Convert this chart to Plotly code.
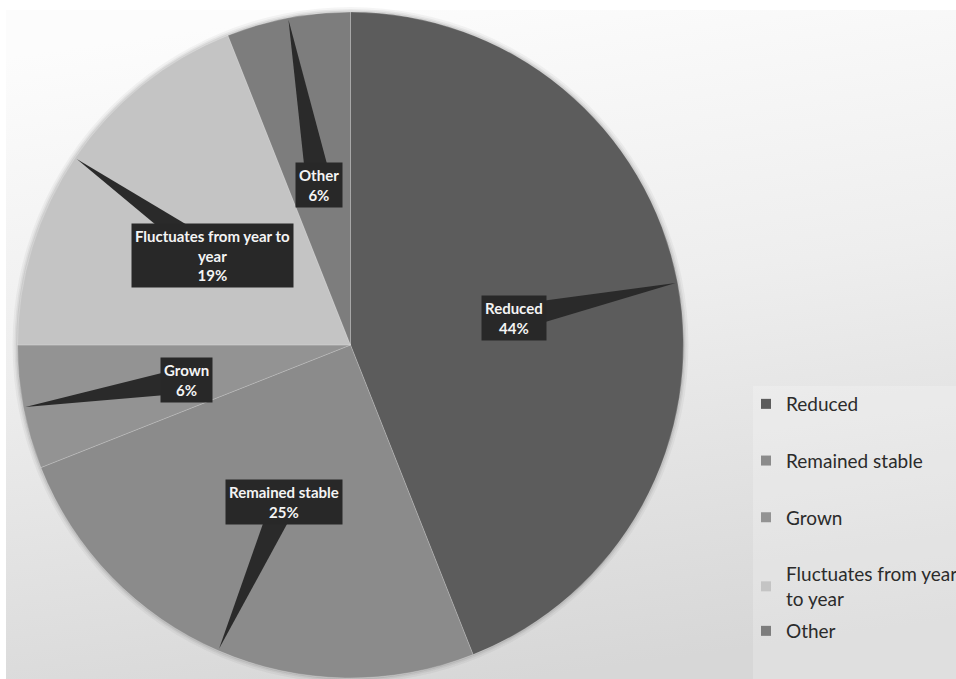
import base64
import math

import plotly.graph_objects as go

# ---- data -------------------------------------------------------------
categories = ["Reduced", "Remained stable", "Grown", "Fluctuates from year to year", "Other"]
shares = [44, 25, 6, 19, 6]
legend_names = ["Reduced", "Remained stable", "Grown", "Fluctuates from year<br>to year", "Other"]
callout_names = ["Reduced", "Remained stable", "Grown", "Fluctuates from year to<br>year", "Other"]
slice_colors = ["#5c5c5c", "#8b8b8b", "#939393", "#c4c4c4", "#7d7d7d"]

# ---- canvas geometry (pixels) ------------------------------------------
W, H = 956, 679
CX, CY, R = 350.5, 345, 333          # pie centre and radius
LABEL_FRAC = 0.5                     # callout boxes sit at half the radius
WEDGE_HALF = 13                      # half width of a callout pointer base


def px(x):
    return x / W


def py(y):
    return 1 - y / H


fig = go.Figure()

# pie itself
fig.add_trace(go.Pie(
    labels=categories,
    values=shares,
    sort=False,
    direction="clockwise",
    rotation=0,
    marker=dict(colors=slice_colors, line=dict(color="rgba(255,255,255,0.2)", width=1)),
    textinfo="none",
    hoverinfo="label+percent",
    showlegend=False,
    domain=dict(x=[px(CX - R), px(CX + R)], y=[py(CY + R), py(CY - R)]),
))

# legend entries (one per category)
for i, (name, col) in enumerate(zip(legend_names, slice_colors)):
    fig.add_trace(go.Scatter(
        x=[None], y=[None], mode="markers",
        marker=dict(symbol="square", size=10, color=col),
        name=name, legendgroup=categories[i],
        legend="legend2" if i == len(categories) - 1 else "legend",
        hoverinfo="skip",
    ))

# ---- callouts: dark label boxes with a wedge pointing at the slice -------
total = sum(shares)
shapes = []
annotations = []
start = 0.0
for name, val in zip(callout_names, shares):
    mid = (start + val / 2) / total * 2 * math.pi   # clockwise from 12 o'clock
    start += val
    ux, uy = math.sin(mid), -math.cos(mid)
    bx, by = CX + LABEL_FRAC * R * ux, CY + LABEL_FRAC * R * uy + 4
    tx, ty = CX + (R - 2) * ux, CY + (R - 2) * uy
    # perpendicular for the wedge base
    dx, dy = tx - bx, ty - by
    d = math.hypot(dx, dy)
    nx, ny = -dy / d, dx / d
    p1 = (bx + nx * WEDGE_HALF, by + ny * WEDGE_HALF)
    p2 = (bx - nx * WEDGE_HALF, by - ny * WEDGE_HALF)
    path = "M{:.5f},{:.5f} L{:.5f},{:.5f} L{:.5f},{:.5f} Z".format(
        px(p1[0]), py(p1[1]), px(tx), py(ty), px(p2[0]), py(p2[1]))
    shapes.append(dict(type="path", path=path, xref="paper", yref="paper",
                       fillcolor="#2a2a2a", line=dict(width=0), layer="above"))
    pct = round(val / total * 100)
    annotations.append(dict(
        x=px(bx), y=py(by), xref="paper", yref="paper",
        xanchor="center", yanchor="middle", showarrow=False,
        text="<b>{}<br>{}%</b>".format(name, pct),
        font=dict(family="Lato", size=15, color="#f4f4f4"),
        bgcolor="#282828", borderpad=3, align="center",
    ))

# soft shadow around the pie rim
for extra, alpha in [(5, 0.04), (3, 0.05), (1.5, 0.07)]:
    shapes.append(dict(
        type="circle", xref="paper", yref="paper",
        x0=px(CX - R - extra), x1=px(CX + R + extra),
        y0=py(CY + R + extra), y1=py(CY - R - extra),
        fillcolor="rgba(0,0,0,{})".format(alpha), line=dict(width=0), layer="below",
    ))

# lighter panel behind the legend
shapes.append(dict(type="rect", xref="paper", yref="paper",
                   x0=px(753), x1=1, y0=0, y1=py(386),
                   fillcolor="rgba(255,255,255,0.22)", line=dict(width=0), layer="below"))

# background gradient
svg = (
    "<svg xmlns='http://www.w3.org/2000/svg' width='950' height='669' preserveAspectRatio='none'>"
    "<defs><linearGradient id='g' x1='0.35' y1='0' x2='0.55' y2='1'>"
    "<stop offset='0' stop-color='#fcfcfc'/><stop offset='0.45' stop-color='#eeeeee'/>"
    "<stop offset='1' stop-color='#d7d7d7'/></linearGradient></defs>"
    "<rect width='950' height='669' fill='url(#g)'/></svg>"
)
bg_src = "data:image/svg+xml;base64," + base64.b64encode(svg.encode()).decode()

legend_font = dict(family="Lato", size=19, color="#2b2b2b")

fig.update_layout(
    width=W, height=H,
    margin=dict(l=0, r=0, t=0, b=0, pad=0, autoexpand=False),
    paper_bgcolor="white",
    plot_bgcolor="rgba(0,0,0,0)",
    xaxis=dict(visible=False, domain=[0, 1]),
    yaxis=dict(visible=False, domain=[0, 1]),
    images=[dict(source=bg_src, xref="paper", yref="paper", x=px(6), y=py(10),
                 sizex=1 - px(6), sizey=py(10), sizing="stretch",
                 xanchor="left", yanchor="top", layer="below")],
    shapes=shapes,
    annotations=annotations,
    legend=dict(x=px(746), y=py(385), xanchor="left", yanchor="top",
                bgcolor="rgba(0,0,0,0)", font=legend_font, tracegroupgap=29,
                itemclick=False, itemdoubleclick=False),
    legend2=dict(x=px(746), y=py(612), xanchor="left", yanchor="top",
                 bgcolor="rgba(0,0,0,0)", font=legend_font,
                 itemclick=False, itemdoubleclick=False),
    showlegend=True,
)

fig.write_html("out.html")
